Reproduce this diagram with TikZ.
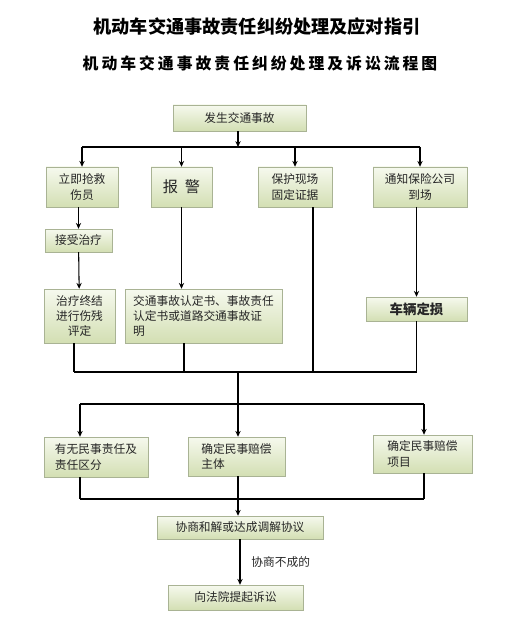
\documentclass[tikz,border=0pt]{standalone}
\usepackage{fontspec}
\newfontfamily\cjk{Noto Sans CJK SC}
\usetikzlibrary{arrows.meta, positioning, shadows}
\definecolor{boxtop}{HTML}{F6F9EE}
\definecolor{boxbottom}{HTML}{D3DFB3}
\definecolor{boxline}{HTML}{A9B394}

\begin{document}
\begin{tikzpicture}[
        x=0.03cm, y=-0.03cm,
        box/.style={rectangle, draw=boxline, top color=boxtop, bottom color=boxbottom,
            drop shadow={shadow xshift=0.7pt, shadow yshift=-0.9pt, fill=black!30},
            font=\cjk\fontsize{10}{13}\selectfont, text=black!85, align=center,
            inner sep=2pt},
        boxsize/.style 2 args={minimum width=#1*0.03cm, minimum height=#2*0.03cm},
        flow/.style={line width=0.9pt, -{Stealth[length=5pt, width=4.5pt]}},
        link/.style={line width=0.9pt, -},
    ]
        \useasboundingbox (0,0) rectangle (515,624);

        % Titles
        \node[font=\cjk\bfseries\fontsize{15.5}{18}\selectfont] (title) at (257,27)
            {机动车交通事故责任纠纷处理及应对指引};
        \node[font=\cjk\bfseries\fontsize{13.5}{16}\selectfont\addfontfeature{LetterSpace=19}]
            (subtitle) at (260,63) {机动车交通事故责任纠纷处理及诉讼流程图};

        % First steps
        \node[box, boxsize={133}{26}] (accident) at (239.5,118) {发生交通事故};
        \node[box, boxsize={72}{40}] (rescue) at (82,187) {立即抢救\\伤员};
        \node[box, boxsize={61}{40}, font=\cjk\fontsize{13}{15}\selectfont] (police) at (181.5,187) {报\ \ 警};
        \node[box, boxsize={74}{40}] (scene) at (295,187) {保护现场\\固定证据};
        \node[box, boxsize={94}{40}] (insurer) at (420,187) {通知保险公司\\到场};

        % Second steps
        \node[box, boxsize={67}{23}] (treat) at (78.5,240.5) {接受治疗};
        \node[box, boxsize={71}{54}] (assess) at (79.5,316) {治疗终结\\进行伤残\\评定};
        \node[box, boxsize={157}{54}, align=left] (report) at (203.5,316)
            {交通事故认定书、事故责任\\认定书或道路交通事故证\\明};
        \node[box, boxsize={101}{24}, font=\cjk\bfseries\fontsize{11.5}{14}\selectfont] (damage) at (416.5,309) {车辆定损};

        % Civil claims
        \node[box, boxsize={104}{40}, align=left] (liability) at (96,457) {有无民事责任及\\责任区分};
        \node[box, boxsize={97}{39}, align=left] (subject) at (236.5,456.5) {确定民事赔偿\\主体};
        \node[box, boxsize={99}{38}, align=left] (items) at (422.5,454) {确定民事赔偿\\项目};

        % Settlement
        \node[box, boxsize={166}{23}] (mediate) at (240,527.5) {协商和解或达成调解协议};
        \node[box, boxsize={135}{25}] (sue) at (235.5,597.5) {向法院提起诉讼};

        % Junctions
        \coordinate (split1) at (238,147);
        \coordinate (merge1) at (238,372);
        \coordinate (split2) at (238,404);
        \coordinate (merge2) at (238,499);

        % Top fan-out
        \draw[flow] (accident.south -| split1) -- (split1);
        \draw[link] (rescue.north |- split1) -- (insurer.north |- split1);
        \foreach \n in {rescue, police, scene, insurer} {
            \draw[flow] (\n.north |- split1) -- (\n.north);
        }

        % Down the columns
        \draw[flow] (rescue.south -| treat.north) -- (treat.north);
        \draw[flow] (treat) -- (assess);
        \draw[flow] (police.south) -- (police.south |- report.north);
        \draw[flow] (insurer.south -| damage.north) -- (damage.north);

        % Gather
        \draw[link] ([xshift=-5.5*0.03cm]assess.south) -- ([xshift=-5.5*0.03cm]assess.south |- merge1);
        \draw[link] ([xshift=-19.5*0.03cm]report.south) -- ([xshift=-19.5*0.03cm]report.south |- merge1);
        \draw[link] ([xshift=18*0.03cm]scene.south) -- ([xshift=18*0.03cm]scene.south |- merge1);
        \draw[link] (damage.south) -- (damage.south |- merge1);
        \draw[link] ([xshift=-5.5*0.03cm]assess.south |- merge1) -- (damage.south |- merge1);
        \draw[link] (merge1) -- (split2);

        % Second fan-out
        \draw[link] ([xshift=-16*0.03cm]liability.north |- split2) -- ([xshift=1.5*0.03cm]items.north |- split2);
        \draw[flow] ([xshift=-16*0.03cm]liability.north |- split2) -- ([xshift=-16*0.03cm]liability.north);
        \draw[flow] (split2) -- (split2 |- subject.north);
        \draw[flow] ([xshift=1.5*0.03cm]items.north |- split2) -- ([xshift=1.5*0.03cm]items.north);

        % Merge to settlement
        \draw[link] ([xshift=-16*0.03cm]liability.south) -- ([xshift=-16*0.03cm]liability.south |- merge2);
        \draw[link] (subject.south -| merge2) -- (merge2);
        \draw[link] ([xshift=1.5*0.03cm]items.south) -- ([xshift=1.5*0.03cm]items.south |- merge2);
        \draw[link] ([xshift=-16*0.03cm]liability.south |- merge2) -- ([xshift=1.5*0.03cm]items.south |- merge2);
        \draw[flow] (merge2) -- (merge2 |- mediate.north);

        % Litigation
        \draw[flow] (mediate.south) -- (mediate.south |- sue.north)
            node[pos=0.5, right=6pt, font=\cjk\fontsize{10}{12}\selectfont, text=black!85] (failed) {协商不成的};
    \end{tikzpicture}
\end{document}
